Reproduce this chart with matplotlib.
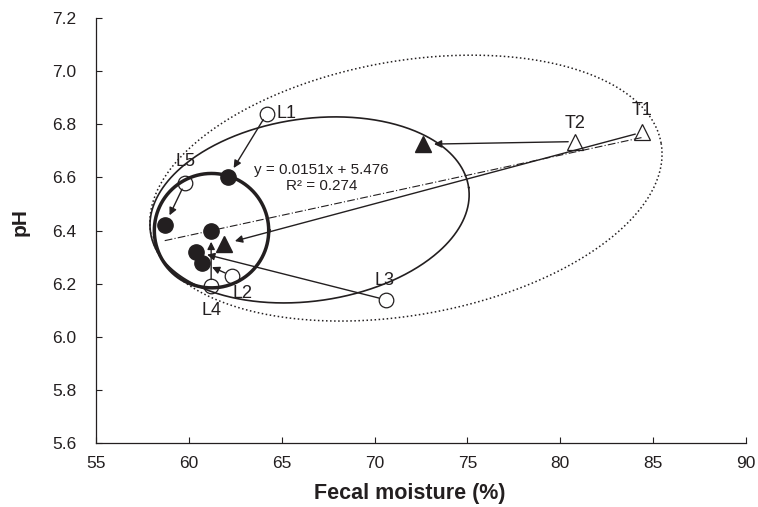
import numpy as np
import matplotlib.pyplot as plt

plt.rcParams["font.family"] = ["Liberation Sans", "DejaVu Sans"]

INK = '#231f20'

# open symbols = starting point, filled symbols = where the arrow ends
labels = ['L1', 'L2', 'L3', 'L4', 'L5', 'T1', 'T2']
kinds = ['o', 'o', 'o', 'o', 'o', '^', '^']
moist_start = [64.2, 62.3, 70.6, 61.2, 59.8, 84.4, 80.8]
ph_start = [6.84, 6.23, 6.14, 6.19, 6.58, 6.77, 6.735]
moist_end = [62.1, 60.7, 60.4, 61.2, 58.7, 61.9, 72.6]
ph_end = [6.60, 6.28, 6.32, 6.40, 6.42, 6.35, 6.725]

# regression shown on the chart
slope, intercept, r2 = 0.0151, 5.476, 0.274

xticks = [55, 60, 65, 70, 75, 80, 85, 90]
yticks = [5.6, 5.8, 6.0, 6.2, 6.4, 6.6, 6.8, 7.0, 7.2]

# label offsets in points, (dx, dy, ha)
label_pos = {'L1': (7, 0, 'left'), 'L2': (1, -13, 'left'), 'L3': (-1, 14, 'center'),
             'L4': (0, -17, 'center'), 'L5': (0, 15.5, 'center'),
             'T1': (0, 15.5, 'center'), 'T2': (0, 13, 'center')}

fig = plt.figure(figsize=(7.58, 5.07), dpi=100)
ax = fig.add_axes([96/758, 1 - 443.3/507, 650/758, 425.3/507])
ax.set_xlim(55, 90)
ax.set_ylim(5.6, 7.2)

# screen aspect: how many pH units one moisture unit spans on screen
pos = ax.get_position()
px_x = fig.get_figwidth() * fig.dpi * pos.width / 35
px_y = fig.get_figheight() * fig.dpi * pos.height / 1.6
k = px_y / px_x


def draw_ellipse(cx, cy, a, b, angle, **kw):
    t = np.linspace(0, 2 * np.pi, 500)
    th = np.radians(angle)
    u = a * np.cos(t)
    v = b * np.sin(t)
    x = cx + u * np.cos(th) - v * np.sin(th)
    y = cy + (u * np.sin(th) + v * np.cos(th)) / k
    ax.plot(x, y, color=INK, zorder=1, **kw)


draw_ellipse(71.69, 6.560, 13.95, 6.84, 10, lw=1.1, ls=':')
draw_ellipse(66.5, 6.478, 8.65, 4.91, 8, lw=1.2)
draw_ellipse(61.22, 6.400, 3.08, 3.08, 0, lw=2.5)

# regression line over the range of the data
allx = np.array(moist_start + moist_end)
xr = np.array([allx.min(), allx.max()])
ax.plot(xr, slope * xr + intercept, color=INK, lw=0.8,
        ls=(0, (7, 2, 1, 2)), zorder=1)
ax.text(67.15, 6.597, 'y = 0.0151x + 5.476\nR² = %.3f' % r2, ha='center',
        va='center', fontsize=11, color=INK, linespacing=1.15)

for i, lab in enumerate(labels):
    tri = kinds[i] == '^'
    ax.plot(moist_start[i], ph_start[i], kinds[i], ms=11.5 if tri else 10.5,
            mfc='none', mec=INK, mew=0.9, zorder=3)
    ax.plot(moist_end[i], ph_end[i], kinds[i], ms=12 if tri else 11,
            color=INK, zorder=3)
    ax.annotate('', xy=(moist_end[i], ph_end[i]),
                xytext=(moist_start[i], ph_start[i]),
                arrowprops=dict(arrowstyle='-|>', color=INK, lw=1,
                                mutation_scale=11, shrinkA=5, shrinkB=8),
                zorder=2)
    dx, dy, ha = label_pos[lab]
    ax.annotate(lab, (moist_start[i], ph_start[i]), xytext=(dx, dy),
                textcoords='offset points', ha=ha, va='center',
                fontsize=13, color=INK)

ax.set_xticks(xticks)
ax.set_yticks(yticks)
ax.set_yticklabels(['%.1f' % v for v in yticks])
ax.tick_params(direction='in', length=4, width=0.8, labelsize=12.5,
               colors=INK)
ax.tick_params(axis='y', pad=14)
ax.tick_params(axis='x', pad=9)
for s in ['top', 'right']:
    ax.spines[s].set_visible(False)
for s in ['left', 'bottom']:
    ax.spines[s].set_color(INK)
    ax.spines[s].set_linewidth(0.9)

fig.text(410/758, 1 - 493/507, 'Fecal moisture (%)', ha='center',
         va='center', fontsize=15.5, fontweight='bold', color=INK)
fig.text(20.5/758, 1 - 221.7/507, 'pH', ha='center', va='center',
         rotation=90, fontsize=15, fontweight='bold', color=INK)

fig.savefig('out.png', dpi=100)
